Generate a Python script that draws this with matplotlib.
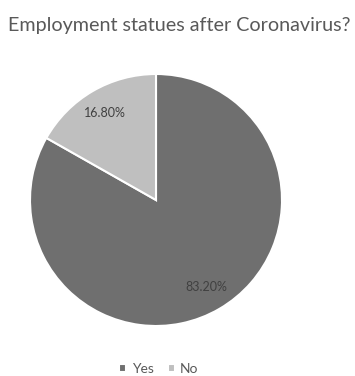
import matplotlib
matplotlib.use("Agg")
import matplotlib.pyplot as plt

labels = ["Yes", "No"]
values = [83.2, 16.8]
colors = ["#6f6f6f", "#bfbfbf"]

plt.rcParams['font.family'] = ['Lato', 'DejaVu Sans']

fig = plt.figure(figsize=(3.55, 3.76), dpi=100)
ax = fig.add_axes([30/355, 1-326/376, 252/355, 252/376])

wedges, texts, autotexts = ax.pie(
    values, colors=colors, startangle=90, counterclock=False,
    autopct=lambda p: f"{p:.2f}%", pctdistance=0.8,
    wedgeprops=dict(edgecolor="white", linewidth=1.5),
    textprops=dict(color="#404040", fontsize=9))
ax.set_aspect("equal")
ax.set_xlim(-1, 1)
ax.set_ylim(-1, 1)

fig.text(0.505, 1-25/376, "Employment statues after Coronavirus?", ha="center", va="center",
         fontsize=14.2, color="#595959")

fig.legend(wedges, labels, loc="center", bbox_to_anchor=(159/355, 1-369/376), ncol=2,
           frameon=False, fontsize=10, handlelength=0.5, handleheight=0.5,
           handletextpad=0.4, columnspacing=1.0, labelcolor="#595959",
           borderpad=0)

fig.savefig("out.png", dpi=100)
